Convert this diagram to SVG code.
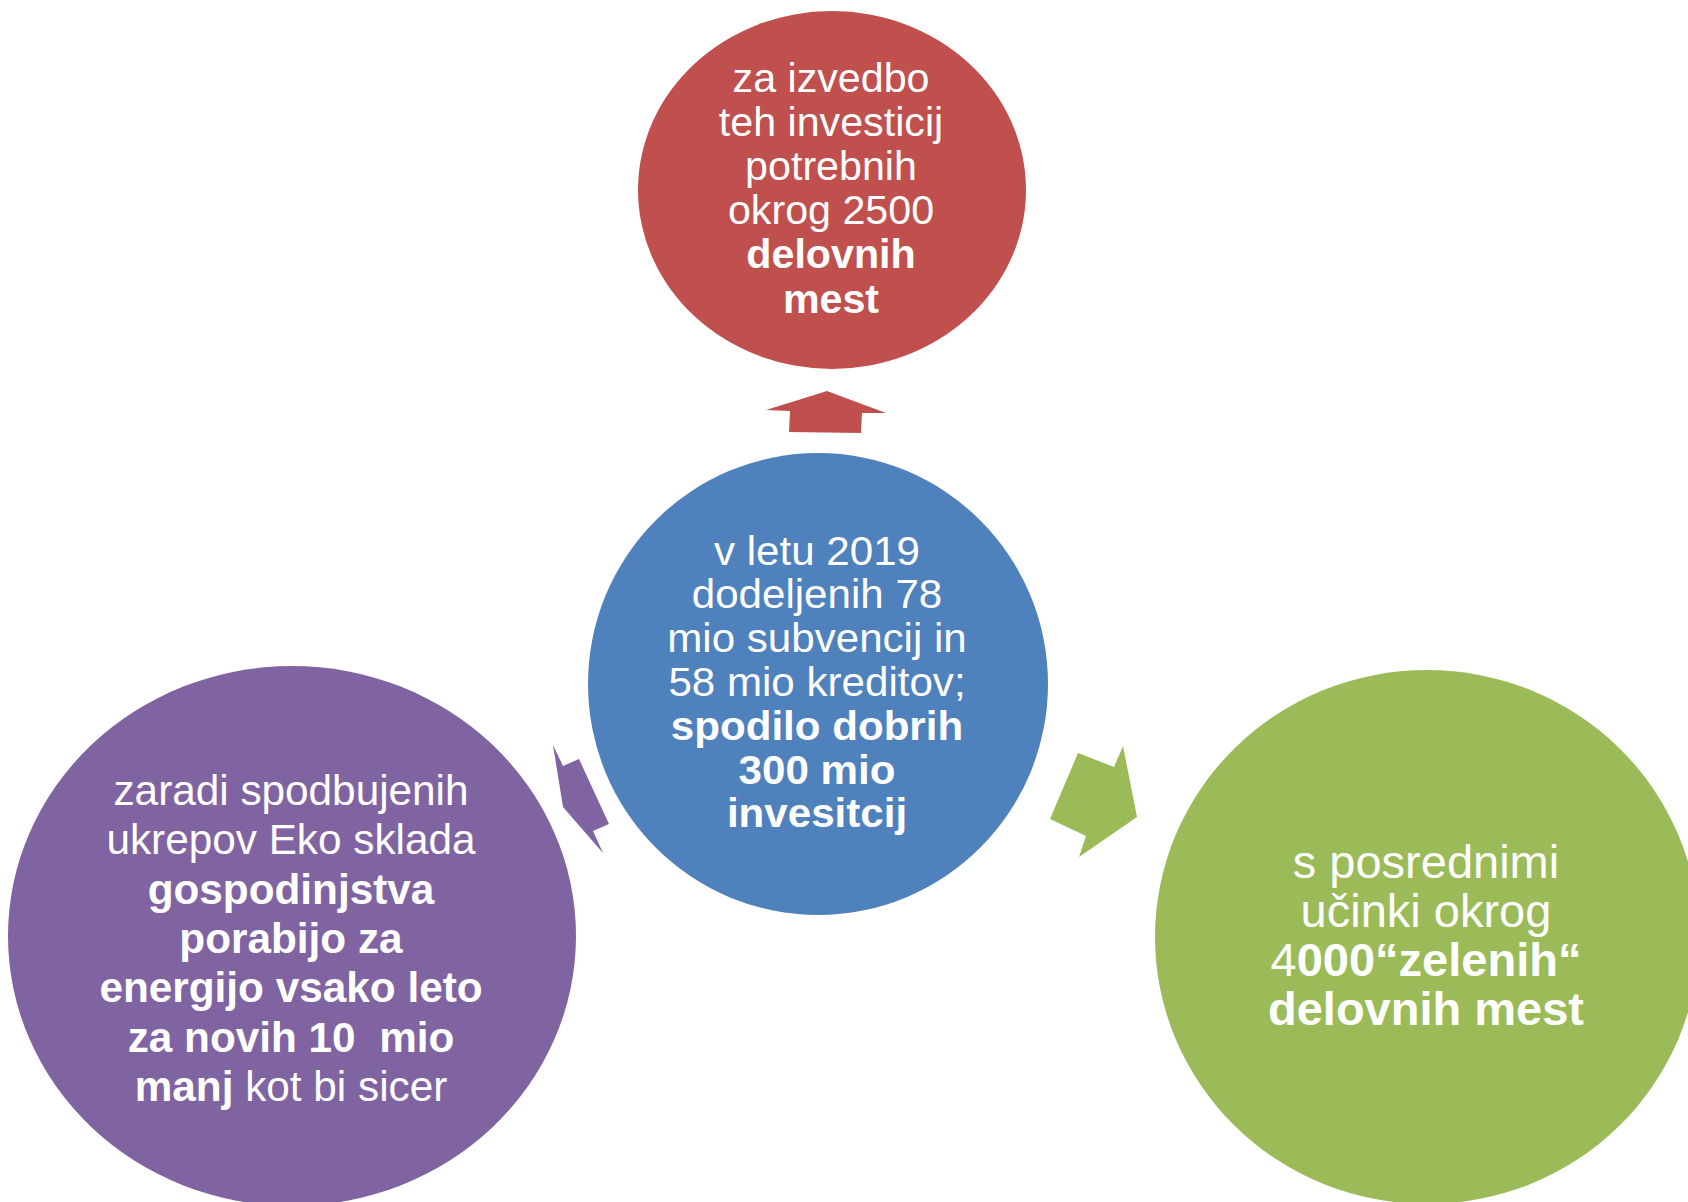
<svg xmlns="http://www.w3.org/2000/svg" width="1688" height="1202" viewBox="0 0 1688 1202">
<style>
.t{font-family:"Liberation Sans",Arial,sans-serif;fill:#FFFFFF;text-anchor:middle;font-size:40px}
.b{font-weight:bold}
.p{font-size:42.3px}
.g{font-size:47px}
</style>
<rect width="1688" height="1202" fill="#FFFFFF"/>
<g id="connectors">
<polygon id="arrow-red" points="766,410 827,391 886,413 862,413 861,433 789,432 790,411" fill="#C0504D"/>
<polygon id="arrow-purple" points="553,745 563,766 579,759 609,824 593,831 603,853 563,807" fill="#8064A2"/>
<polygon id="arrow-green" points="1078,753 1114,767 1123,746 1137,817 1079,857 1086,836 1050,819" fill="#9BBB59"/>
</g>
<g id="node-red">
<ellipse cx="832" cy="190" rx="194" ry="179" fill="#C0504D"/>
<g transform="translate(831,0) scale(1.03,1)">
<text class="t" x="0" y="92">za izvedbo</text>
<text class="t" x="0" y="136">teh investicij</text>
<text class="t" x="0" y="180">potrebnih</text>
<text class="t" x="0" y="224">okrog 2500</text>
<text class="t b" x="0" y="268">delovnih</text>
<text class="t b" x="0" y="313">mest</text>
</g>
</g>
<g id="node-blue">
<ellipse cx="818" cy="684" rx="230" ry="231" fill="#4F81BD"/>
<g transform="translate(817,0) scale(1.053,1)">
<text class="t" x="0" y="565">v letu 2019</text>
<text class="t" x="0" y="608">dodeljenih 78</text>
<text class="t" x="0" y="652">mio subvencij in</text>
<text class="t" x="0" y="696">58 mio kreditov;</text>
<text class="t b" x="0" y="740">spodilo dobrih</text>
<text class="t b" x="0" y="784">300 mio</text>
<text class="t b" x="0" y="827">invesitcij</text>
</g>
</g>
<g id="node-purple">
<ellipse cx="292" cy="936" rx="284" ry="270" fill="#8064A2"/>
<text class="t p" x="291" y="805">zaradi spodbujenih</text>
<text class="t p" x="291" y="854">ukrepov Eko sklada</text>
<text class="t p b" x="291" y="904">gospodinjstva</text>
<text class="t p b" x="291" y="953">porabijo za</text>
<text class="t p b" x="291" y="1002">energijo vsako leto</text>
<text class="t p b" x="291" y="1052">za novih 10&#160; mio</text>
<text class="t p" x="291" y="1101"><tspan class="b">manj</tspan> kot bi sicer</text>
</g>
<g id="node-green">
<ellipse cx="1427" cy="937" rx="272" ry="267" fill="#9BBB59"/>
<text class="t g" x="1426" y="878">s posrednimi</text>
<text class="t g" x="1426" y="927">učinki okrog</text>
<text class="t g" x="1426" y="976">4<tspan class="b">000“zelenih“</tspan></text>
<text class="t g b" x="1426" y="1025">delovnih mest</text>
</g>
</svg>
